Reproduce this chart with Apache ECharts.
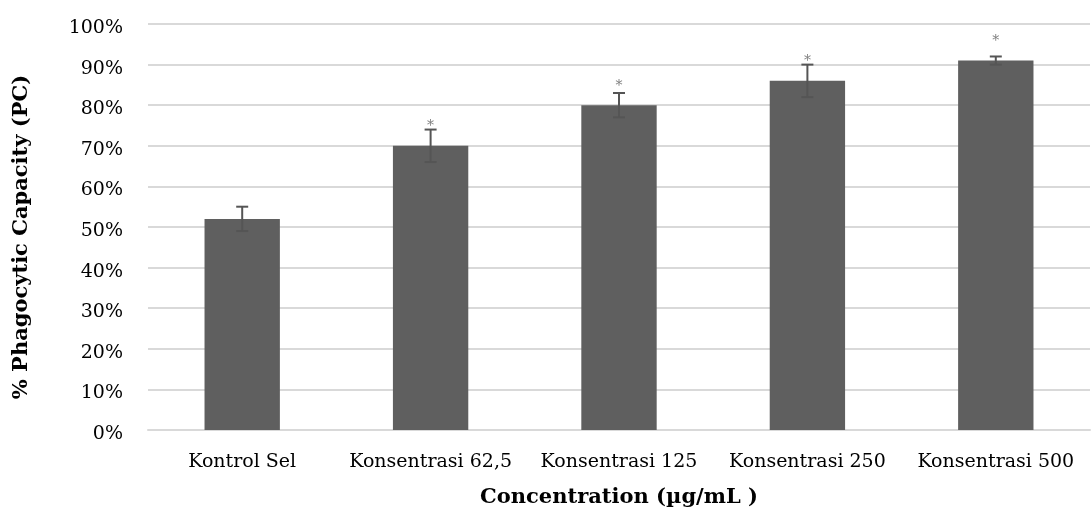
<!DOCTYPE html>
<html>
<head>
<meta charset="utf-8">
<script src="https://cdn.jsdelivr.net/npm/echarts@6/dist/echarts.min.js"></script>
<style>
  html, body { margin: 0; padding: 0; background: #fff; }
  #chart { width: 1091px; height: 511px; }
</style>
</head>
<body>
<div id="chart"></div>
<script>
// Phagocytic capacity per treatment group (mean, SD)
const categories = ['Kontrol Sel', 'Konsentrasi 62,5', 'Konsentrasi 125', 'Konsentrasi 250', 'Konsentrasi 500'];
const means = [52, 70, 80, 86, 91];
const errors = [3, 4, 3, 4, 1];
const significant = [false, true, true, true, true];
const yTicks = { min: 0, max: 100, interval: 10 };

const FONT = '"DejaVu Serif", "Liberation Serif", serif';
const BAR_COLOR = '#5f5f5f';
const ERR_COLOR = '#555555';

const chart = echarts.init(document.getElementById('chart'), null, { renderer: 'canvas' });

chart.setOption({
  animation: false,
  backgroundColor: '#ffffff',
  grid: { left: 148, right: 1, top: 24, bottom: 81, containLabel: false, outerBoundsMode: 'none' },
  xAxis: {
    type: 'category',
    data: categories,
    axisLine: { lineStyle: { color: '#d9d9d9', width: 2 } },
    axisTick: { show: false },
    axisLabel: { color: '#000', fontFamily: FONT, fontSize: 19, margin: 23, interval: 0, hideOverlap: false },
    name: 'Concentration (µg/mL )',
    nameLocation: 'middle',
    nameGap: 57,
    nameTextStyle: { color: '#000', fontFamily: FONT, fontSize: 21, fontWeight: 'bold' }
  },
  yAxis: {
    type: 'value',
    min: yTicks.min,
    max: yTicks.max,
    interval: yTicks.interval,
    axisLine: { show: false },
    axisTick: { show: false },
    splitLine: { lineStyle: { color: '#d9d9d9', width: 2 } },
    axisLabel: {
      margin: 25,
      formatter: '{t|{value}%}',
      rich: { t: { color: '#000', fontFamily: FONT, fontSize: 19, padding: [8, 0, 0, 0] } }
    },
    name: '% Phagocytic Capacity (PC)',
    nameLocation: 'middle',
    nameGap: 116,
    nameTextStyle: { color: '#000', fontFamily: FONT, fontSize: 21, fontWeight: 'bold', padding: [0, 20, 0, 0] }
  },
  series: [
    {
      type: 'bar',
      barWidth: '40%',
      itemStyle: { color: BAR_COLOR },
      data: means.map((v, i) => ({
        value: v,
        label: {
          show: significant[i],
          position: 'top',
          distance: 12,
          formatter: '*',
          color: '#808080',
          fontFamily: FONT,
          fontSize: 14
        }
      }))
    },
    {
      // error bars: mean ± SD
      type: 'custom',
      z: 5,
      data: means.map((v, i) => [i, v - errors[i], v + errors[i]]),
      renderItem: function (params, api) {
        const x = api.value(0);
        const lo = api.coord([x, api.value(1)]);
        const hi = api.coord([x, api.value(2)]);
        const cap = 6;
        const style = { stroke: ERR_COLOR, lineWidth: 2 };
        return {
          type: 'group',
          children: [
            { type: 'line', shape: { x1: hi[0], y1: hi[1], x2: lo[0], y2: lo[1] }, style },
            { type: 'line', shape: { x1: hi[0] - cap, y1: hi[1], x2: hi[0] + cap, y2: hi[1] }, style },
            { type: 'line', shape: { x1: lo[0] - cap, y1: lo[1], x2: lo[0] + cap, y2: lo[1] }, style }
          ]
        };
      }
    }
  ]
});
</script>
</body>
</html>
